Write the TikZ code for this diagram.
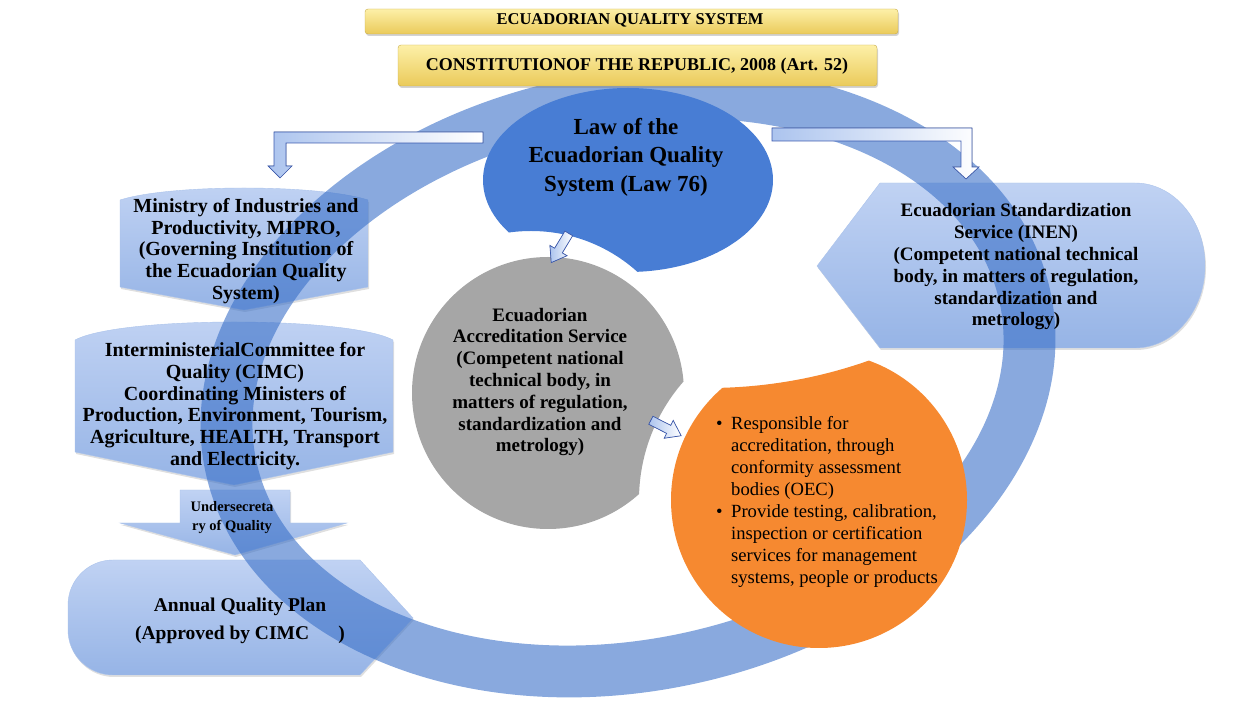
\documentclass[tikz,border=0pt]{standalone}
\usepackage{fontspec}
\setmainfont{Liberation Serif}
\usepackage{tikz}
\usetikzlibrary{calc,shadows}
\definecolor{goldtop}{RGB}{253,240,168}
\definecolor{goldbot}{RGB}{234,202,90}
\definecolor{boxtop}{RGB}{192,210,243}
\definecolor{boxbot}{RGB}{150,180,230}
\definecolor{ringblue}{RGB}{58,112,200}
\definecolor{lawblue}{RGB}{72,125,212}
\definecolor{servgray}{RGB}{166,166,166}
\definecolor{dutyorange}{RGB}{246,137,48}
\definecolor{arrowedge}{RGB}{60,90,175}
\definecolor{arrowfill}{RGB}{172,196,238}
\tikzset{
	titlebox/.style={top color=goldtop, bottom color=goldbot, draw=goldbot!85!black, rounded corners=3pt,
		drop shadow={opacity=.35, shadow xshift=1pt, shadow yshift=-2pt}},
	bluebox/.style={top color=boxtop, bottom color=boxbot, draw=boxbot!80!white,
		drop shadow={opacity=.25, shadow xshift=1pt, shadow yshift=-2pt}},
	blockarrow/.style={draw=arrowedge, line width=.7pt, left color=arrowfill, right color=white},
	lbl/.style={align=center, inner sep=0pt},
}
% everything but a bite (clockwise frame, counterclockwise circle)
\def\bite#1#2{\clip (0,0) -- (0,707) -- (1256,707) -- (1256,0) -- cycle (#1) circle [radius=#2];}

\begin{document}
\begin{tikzpicture}[x=1pt, y=1pt]
		\useasboundingbox (0,0) rectangle (1256,707);
		% boxes on the left and right
		\draw[bluebox] (120,420) -- (120,507) .. controls (170,523) and (318,523) .. (368,507) -- (368,420) -- (244,397) -- cycle;
		\draw[bluebox] (75,255) -- (75,367) .. controls (120,391) and (348,391) .. (393,367) -- (393,255) -- (234,222) -- cycle;
		\draw[bluebox] (180,217) -- (290,217) -- (290,184) -- (347,184) -- (235,152) -- (120,184) -- (180,184) -- cycle;
		\draw[bluebox] (360,147) -- (413,89) -- (360,32) -- (113,32) arc[start angle=270, end angle=180, radius=45]
			-- (68,102) arc[start angle=180, end angle=90, radius=45] -- cycle;
		\draw[bluebox] (880,524) -- (1135,524) arc[start angle=90, end angle=-90, x radius=70, y radius=82.5]
			-- (880,359) -- (817,441) -- cycle;
		% ring
		\fill[ringblue, fill opacity=.6, even odd rule, rotate around={12:(628,325)}]
			(628,325) ellipse [x radius=432, y radius=309] (628,325) ellipse [x radius=380, y radius=257];
		% law, accreditation and duties shapes
		\begin{scope}
			\bite{531,317}{159}
			\fill[lawblue] (628,527) ellipse [x radius=145, y radius=92];
		\end{scope}
		\begin{scope}
			\bite{819,207}{180}
			\fill[servgray] (548,314) circle [radius=136];
		\end{scope}
		\begin{scope}
			\bite{708,802}{483}
			\fill[dutyorange] (819,207) circle [radius=148];
		\end{scope}
		% titles
		\draw[titlebox] (365,673) rectangle (898,698);
		\draw[titlebox] (398,621) rectangle (877,662);
		\node[lbl, font=\fontsize{16.5}{19}\selectfont\bfseries] (system) at (630,687) {ECUADORIAN QUALITY SYSTEM};
		\node[lbl, font=\fontsize{18}{21}\selectfont\bfseries] (constitution) at (637,641) {CONSTITUTIONOF THE REPUBLIC, 2008 (Art. 52)};
		% block arrows
		\coordinate (lawL) at (483,575);
		\coordinate (lawR) at (772,579);
		\coordinate (lawgray) at (560,459);
		\coordinate (grayduty) at (666,279);
		\filldraw[blockarrow] (lawL) -- ++(-209,0) -- ++(0,-34) -- ++(-6,0) -- ++(12,-12) -- ++(12,12) -- ++(-6,0) -- ++(0,23) -- ++(197,0) -- cycle;
		\filldraw[blockarrow] (lawR) -- ++(200,0) -- ++(0,-39) -- ++(7,0) -- ++(-13,-12) -- ++(-13,12) -- ++(8,0) -- ++(0,26) -- ++(-189,0) -- cycle;
		\filldraw[blockarrow, shift={(lawgray)}, rotate=239] (-17,-4.5) -- (3,-4.5) -- (3,-10) -- (17,0) -- (3,10) -- (3,4.5) -- (-17,4.5) -- cycle;
		\filldraw[blockarrow, shift={(grayduty)}, rotate=-27] (-17,-4.5) -- (3,-4.5) -- (3,-10) -- (17,0) -- (3,10) -- (3,4.5) -- (-17,4.5) -- cycle;
		% texts
		\node[lbl, font=\fontsize{23}{28.5}\selectfont\bfseries] (law) at (626,550) {Law of the\\Ecuadorian Quality\\System (Law 76)};
		\node[lbl, font=\fontsize{20}{21.7}\selectfont\bfseries] (mipro) at (246,456) {Ministry of Industries and\\Productivity, MIPRO,\\(Governing Institution of\\the Ecuadorian Quality\\System)};
		\node[lbl, font=\fontsize{20}{21.7}\selectfont\bfseries] (cimc) at (235,301) {InterministerialCommittee for\\Quality (CIMC)\\Coordinating Ministers of\\Production, Environment, Tourism,\\Agriculture, HEALTH, Transport\\and Electricity.};
		\node[lbl, font=\fontsize{14.5}{19}\selectfont\bfseries] (under) at (232,189) {Undersecreta\\ry of Quality};
		\node[lbl, font=\fontsize{19.5}{28}\selectfont\bfseries] (plan) at (240,86) {Annual Quality Plan\\(Approved by CIMC\hspace{1.5em})};
		\node[lbl, font=\fontsize{19}{21.8}\selectfont\bfseries] (inen) at (1016,440) {Ecuadorian Standardization\\Service (INEN)\\(Competent national technical\\body, in matters of regulation,\\standardization and\\metrology)};
		\node[lbl, font=\fontsize{19}{21.8}\selectfont\bfseries] (sae) at (540,325) {Ecuadorian\\Accreditation Service\\(Competent national\\technical body, in\\matters of regulation,\\standardization and\\metrology)};
		\def\itm{\makebox[15pt][l]{\textbullet}}
		\def\ind{\hspace*{15pt}}
		\node[lbl, anchor=west, align=left, font=\fontsize{18.6}{22}\selectfont] (duties) at (716,205) {\itm Responsible for\\\ind accreditation, through\\\ind conformity assessment\\\ind bodies (OEC)\\\itm Provide testing, calibration,\\\ind inspection or certification\\\ind services for management\\\ind systems, people or products};
	\end{tikzpicture}
\end{document}
